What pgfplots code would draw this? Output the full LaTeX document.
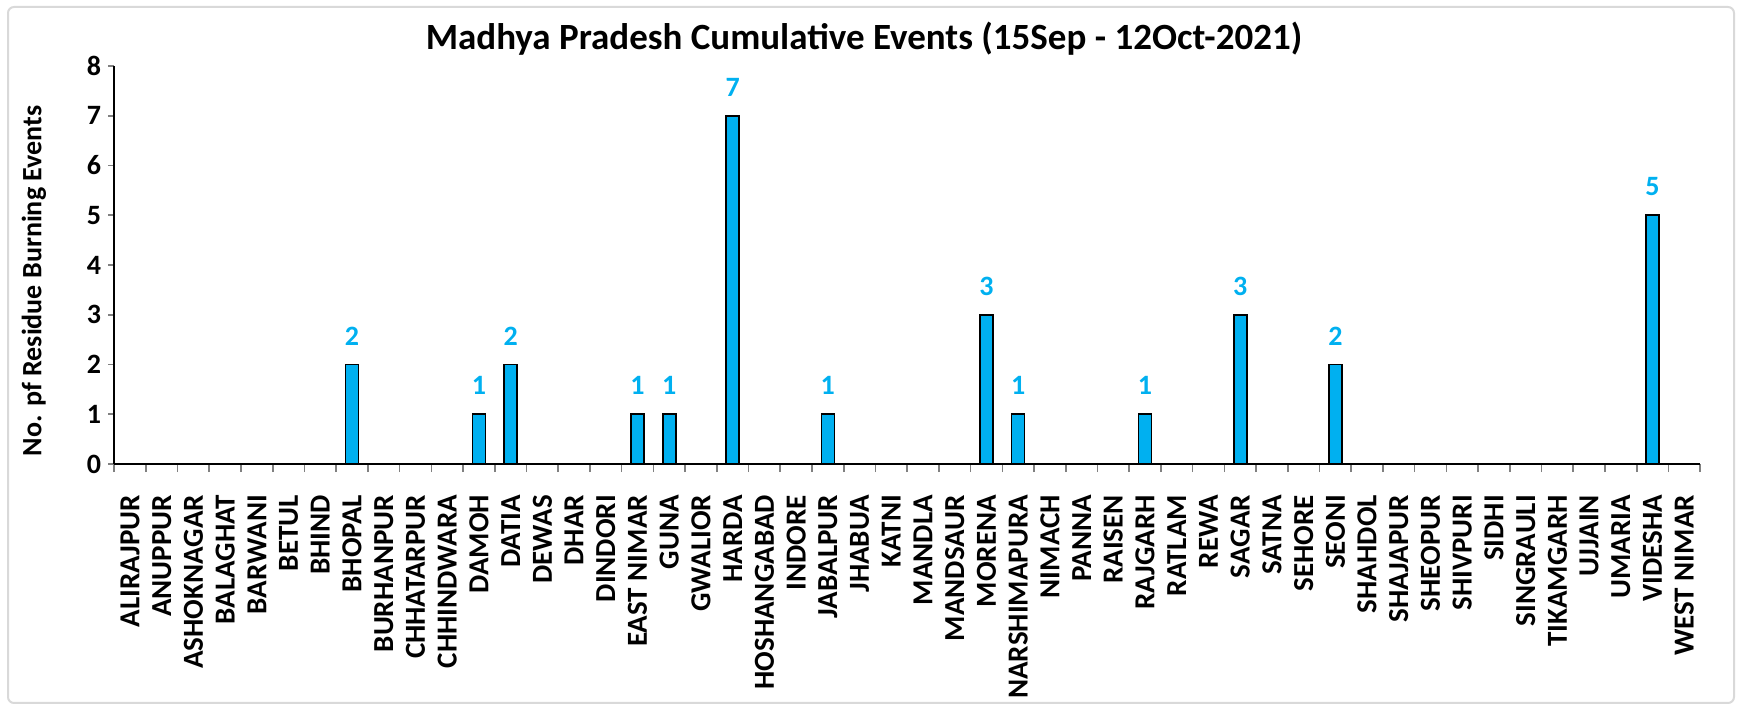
\documentclass[border=0pt]{standalone}
\usepackage{fontspec}
\setmainfont{Carlito}
\usepackage{pgfplots}
\usepackage{pgfplotstable}
\pgfplotsset{compat=1.18}
\definecolor{barblue}{HTML}{00B0F0}
\pgfplotstableread{
x y
0 0
1 0
2 0
3 0
4 0
5 0
6 0
7 2
8 0
9 0
10 0
11 1
12 2
13 0
14 0
15 0
16 1
17 1
18 0
19 7
20 0
21 0
22 1
23 0
24 0
25 0
26 0
27 3
28 1
29 0
30 0
31 0
32 1
33 0
34 0
35 3
36 0
37 0
38 2
39 0
40 0
41 0
42 0
43 0
44 0
45 0
46 0
47 0
48 5
49 0
}\datatable
\begin{document}
\begin{tikzpicture}
\useasboundingbox (0,0) rectangle (871pt,353.5pt);
\draw[rounded corners=3pt, color=black!15, line width=1pt] (4pt,2pt) rectangle (867pt,350pt);
\node[font=\bfseries\fontsize{18.5}{18.5}\selectfont, anchor=center] at (432pt,334pt) {Madhya Pradesh Cumulative Events (15Sep - 12Oct-2021)};
\begin{axis}[
  at={(65pt,121.5pt)}, anchor=origin,
  scale only axis, width=793pt, height=199pt,
  xmin=-0.5, xmax=49.5, ymin=0, ymax=8,
  axis lines*=left,
  axis line style={line width=1pt},
  ytick={0,...,8},
  xtick={0,...,49},
  major x tick style={draw=none},
  minor xtick={-0.5,0.5,...,49.5},
  minor x tick style={line width=0.8pt},
  minor tick length=4pt,
  major tick length=3pt,
  y tick style={line width=0.8pt},
  tick align=outside,
  xticklabels={ALIRAJPUR,ANUPPUR,ASHOKNAGAR,BALAGHAT,BARWANI,BETUL,BHIND,BHOPAL,BURHANPUR,CHHATARPUR,CHHINDWARA,DAMOH,DATIA,DEWAS,DHAR,DINDORI,EAST NIMAR,GUNA,GWALIOR,HARDA,HOSHANGABAD,INDORE,JABALPUR,JHABUA,KATNI,MANDLA,MANDSAUR,MORENA,NARSHIMAPURA,NIMACH,PANNA,RAISEN,RAJGARH,RATLAM,REWA,SAGAR,SATNA,SEHORE,SEONI,SHAHDOL,SHAJAPUR,SHEOPUR,SHIVPURI,SIDHI,SINGRAULI,TIKAMGARH,UJJAIN,UMARIA,VIDESHA,WEST NIMAR},
  xticklabel style={rotate=90, anchor=east, font=\bfseries\fontsize{14.5}{14.5}\selectfont, xshift=-9pt},
  yticklabel style={font=\bfseries\fontsize{14}{14}\selectfont},
  /pgf/number format/assume math mode=true,
  ylabel={No. pf Residue Burning Events},
  ylabel style={at={(axis description cs:-0.0505,0.46)}, anchor=center, font=\bfseries\fontsize{14}{14}\selectfont},
  clip=false,
]
\addplot[ybar, bar width=6.5pt, fill=barblue, draw=black, line width=0.8pt,
  restrict y to domain=0.5:10,
  nodes near coords,
  every node near coord/.append style={text=barblue, font=\bfseries\fontsize{14}{14}\selectfont, yshift=6pt}]
  table[x=x, y=y] {\datatable};
\end{axis}
\end{tikzpicture}
\end{document}
